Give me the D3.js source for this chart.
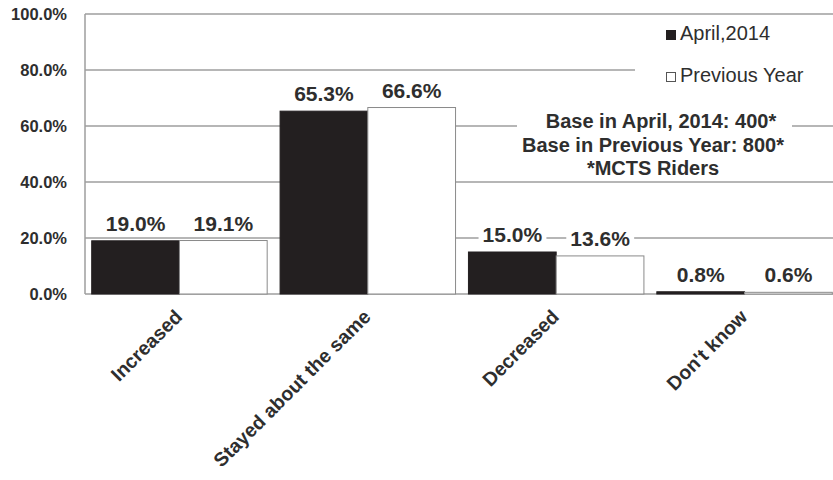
<!DOCTYPE html>
<html>
<head>
<meta charset="utf-8">
<script src="https://cdn.jsdelivr.net/npm/d3@7"></script>
<style>
  body { margin: 0; background: #ffffff; }
  svg text { font-family: "Liberation Sans", Arial, sans-serif; fill: #2e2e2e; }
</style>
</head>
<body>
<div id="chart"></div>
<script>
// Data
var categories = ["Increased", "Stayed about the same", "Decreased", "Don't know"];
var seriesNames = ["April,2014", "Previous Year"];
var april2014 = [19.0, 65.3, 15.0, 0.8];
var previousYear = [19.1, 66.6, 13.6, 0.6];
var yTicks = [0, 20, 40, 60, 80, 100];
var baseNotes = ["Base in April, 2014: 400*", "Base in Previous Year: 800*", "*MCTS Riders"];

var width = 833, height = 480;

var svg = d3.select('#chart')
    .append('svg')
    .attr('width', width)
    .attr('height', height);

// Scales
var x = d3.scaleBand()
    .domain(categories)
    .range([85, 839])
    .paddingInner(0.0685)
    .paddingOuter(0.0356);

var xSub = d3.scaleBand()
    .domain(seriesNames)
    .range([0, x.bandwidth()]);

var y = d3.scaleLinear()
    .domain([0, 100])
    .range([294, 14]);

var fills = { "April,2014": "#231f20", "Previous Year": "#ffffff" };

// Gridlines
svg.append('g')
    .selectAll('line')
    .data(yTicks)
    .enter().append('line')
    .attr('x1', 85)
    .attr('x2', width)
    .attr('y1', function(d) { return y(d); })
    .attr('y2', function(d) { return y(d); })
    .style('stroke', '#9e9e9e')
    .style('stroke-width', 1.5);

// y axis line
svg.append('line')
    .attr('x1', 85).attr('x2', 85)
    .attr('y1', y(100)).attr('y2', y(0))
    .style('stroke', '#9e9e9e')
    .style('stroke-width', 1.5);

// y tick labels
svg.append('g')
    .selectAll('text')
    .data(yTicks)
    .enter().append('text')
    .attr('x', 67)
    .attr('y', function(d) { return y(d); })
    .attr('dy', '0.35em')
    .attr('text-anchor', 'end')
    .style('font-size', '16.5px')
    .style('font-weight', 'bold')
    .text(function(d) { return d.toFixed(1) + '%'; });

// Bars
var rows = categories.map(function(c, i) {
    return { category: c, values: [
        { series: seriesNames[0], value: april2014[i] },
        { series: seriesNames[1], value: previousYear[i] }
    ] };
});

var groups = svg.selectAll('.group')
    .data(rows)
    .enter().append('g')
    .attr('class', 'group')
    .attr('transform', function(d) { return 'translate(' + x(d.category) + ',0)'; });

groups.selectAll('rect')
    .data(function(d) { return d.values; })
    .enter().append('rect')
    .attr('x', function(d) { return xSub(d.series); })
    .attr('y', function(d) { return y(d.value); })
    .attr('width', xSub.bandwidth())
    .attr('height', function(d) { return y(0) - y(d.value); })
    .style('fill', function(d) { return fills[d.series]; })
    .style('stroke', function(d) { return d.series === seriesNames[0] ? '#231f20' : '#8a8a8a'; })
    .style('stroke-width', 1);

// Data labels with white backing
var labels = groups.selectAll('.lbl')
    .data(function(d) { return d.values; })
    .enter().append('g')
    .attr('class', 'lbl');

labels.append('text')
    .attr('x', function(d) { return xSub(d.series) + xSub.bandwidth() / 2; })
    .attr('y', function(d) { return y(d.value) - 10; })
    .attr('text-anchor', 'middle')
    .style('font-size', '21px')
    .style('font-weight', 'bold')
    .text(function(d) { return d.value.toFixed(1) + '%'; });

labels.each(function() {
    var g = d3.select(this);
    var bb = g.select('text').node().getBBox();
    g.insert('rect', 'text')
        .attr('x', bb.x - 4)
        .attr('y', bb.y + 2)
        .attr('width', bb.width + 8)
        .attr('height', bb.height - 3)
        .style('fill', '#ffffff');
});

// Note box
var note = svg.append('g');
note.append('rect')
    .attr('x', 517).attr('y', 108)
    .attr('width', 275).attr('height', 71)
    .style('fill', '#ffffff');
note.selectAll('text')
    .data(baseNotes)
    .enter().append('text')
    .attr('x', function(d, i) { return i === 0 ? 661 : 653; })
    .attr('y', function(d, i) { return 128 + i * 23.5; })
    .attr('text-anchor', 'middle')
    .style('font-size', '20px')
    .style('font-weight', 'bold')
    .text(function(d) { return d; });

// Legend
var legend = svg.append('g');
legend.append('rect')
    .attr('x', 635).attr('y', 20)
    .attr('width', 198).attr('height', 75)
    .style('fill', '#ffffff');

var legendItems = legend.selectAll('.legend-item')
    .data(seriesNames)
    .enter().append('g')
    .attr('class', 'legend-item')
    .attr('transform', function(d, i) { return 'translate(666,' + (30 + i * 42) + ')'; });

legendItems.append('rect')
    .attr('x', 0.5).attr('y', 0.5)
    .attr('width', 9).attr('height', 9)
    .style('fill', function(d) { return fills[d]; })
    .style('stroke', function(d, i) { return i === 0 ? '#231f20' : '#555'; });

legendItems.append('text')
    .attr('x', 14)
    .attr('y', 10)
    .style('font-size', '20px')
    .text(function(d) { return d; });

// Rotated category labels
svg.append('g')
    .selectAll('text')
    .data(categories)
    .enter().append('text')
    .attr('transform', function(d) {
        return 'translate(' + (x(d) + x.bandwidth() / 2 + 4) + ',318) rotate(-45)';
    })
    .attr('text-anchor', 'end')
    .style('font-size', '19.5px')
    .style('font-weight', 'bold')
    .text(function(d) { return d; });
</script>
</body>
</html>
